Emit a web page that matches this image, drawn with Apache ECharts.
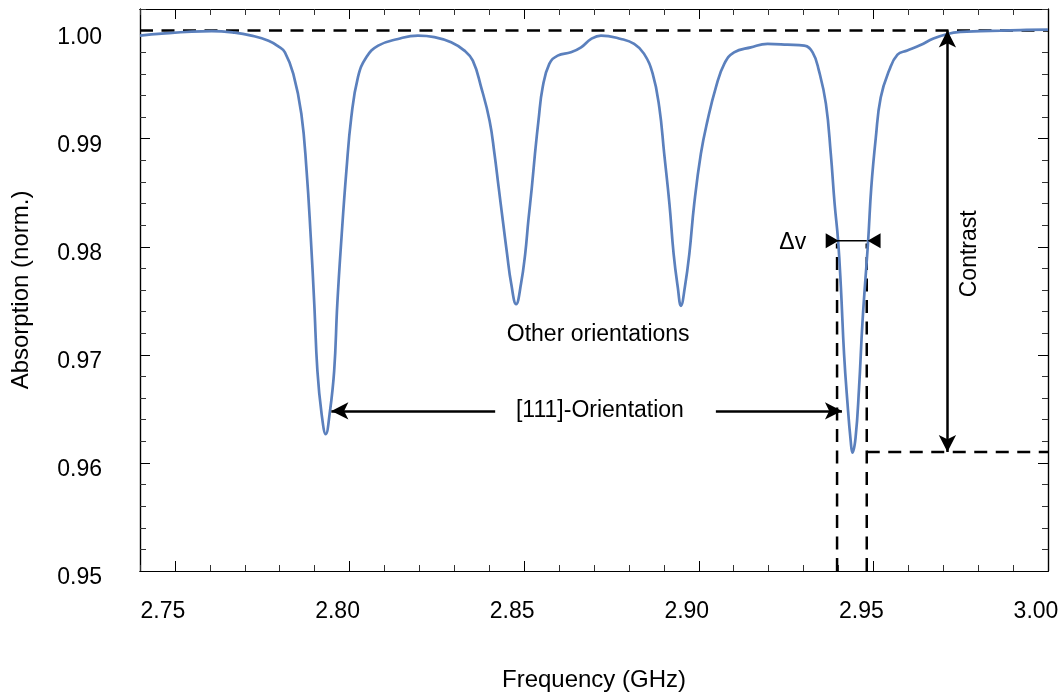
<!DOCTYPE html>
<html><head><meta charset="utf-8">
<script src="https://cdn.jsdelivr.net/npm/echarts@6/dist/echarts.min.js"></script>
<style>html,body{margin:0;padding:0;background:#fff}#c{width:1064px;height:694px}</style>
</head><body><div id="c"></div>
<script>
// ---- data ----
const freq = [2.7400, 2.7462, 2.7548, 2.7605, 2.7671, 2.7719, 2.7768, 2.7797, 2.7815, 2.7839,
  2.7862, 2.7877, 2.7889, 2.7899, 2.7908, 2.7920, 2.7932, 2.7943, 2.7956, 2.7965,
  2.7977, 2.7991, 2.8005, 2.8024, 2.8048, 2.8082, 2.8139, 2.8196, 2.8243, 2.8291,
  2.8329, 2.8353, 2.8377, 2.8401, 2.8415, 2.8427, 2.8439, 2.8451, 2.8463, 2.8477,
  2.8491, 2.8503, 2.8512, 2.8522, 2.8531, 2.8541, 2.8553, 2.8572, 2.8596, 2.8634,
  2.8663, 2.8692, 2.8720, 2.8777, 2.8815, 2.8843, 2.8868, 2.8887, 2.8901, 2.8916,
  2.8928, 2.8940, 2.8949, 2.8960, 2.8973, 2.8987, 2.9006, 2.9025, 2.9049, 2.9073,
  2.9101, 2.9149, 2.9197, 2.9254, 2.9302, 2.9326, 2.9344, 2.9364, 2.9378, 2.9389,
  2.9399, 2.9407, 2.9416, 2.9426, 2.9435, 2.9440, 2.9449, 2.9459, 2.9469, 2.9485,
  2.9494, 2.9507, 2.9521, 2.9545, 2.9569, 2.9597, 2.9635, 2.9672, 2.9712, 2.9750,
  2.9807, 2.9864, 2.9921, 3.0000];
const absorb = [0.99954, 0.99972, 0.99991, 0.99995, 0.99981, 0.99954, 0.99907, 0.99852, 0.99799, 0.99599,
  0.99231, 0.98704, 0.98086, 0.97472, 0.96852, 0.96454, 0.96266, 0.96454, 0.96852, 0.97472,
  0.98086, 0.98704, 0.99197, 0.99568, 0.99753, 0.99861, 0.99923, 0.99954, 0.99940, 0.99892,
  0.99815, 0.99722, 0.99475, 0.99167, 0.98861, 0.98549, 0.98241, 0.97935, 0.97657, 0.97469,
  0.97657, 0.97935, 0.98241, 0.98549, 0.98861, 0.99167, 0.99475, 0.99692, 0.99769, 0.99799,
  0.99845, 0.99923, 0.99954, 0.99923, 0.99877, 0.99787, 0.99602, 0.99290, 0.98861, 0.98398,
  0.97935, 0.97623, 0.97454, 0.97623, 0.97935, 0.98398, 0.98861, 0.99167, 0.99475, 0.99692,
  0.99799, 0.99845, 0.99877, 0.99870, 0.99861, 0.99799, 0.99630, 0.99324, 0.98861, 0.98398,
  0.98056, 0.97623, 0.97009, 0.96546, 0.96204, 0.96095, 0.96234, 0.96697, 0.97315, 0.98056,
  0.98549, 0.99012, 0.99382, 0.99630, 0.99778, 0.99815, 0.99866, 0.99926, 0.99969, 0.99988,
  0.99995, 1.00000, 1.00005, 1.00009];
const xMajorTicks = [2.75, 2.80, 2.85, 2.90, 2.95, 3.00];
const yMajorTicks = [0.95, 0.96, 0.97, 0.98, 0.99, 1.00];

// annotation anchors (data coordinates)
const baseline = 1.00;
const dipLevel = 0.961;
const fwhmLeft = 2.9396, fwhmRight = 2.9481, fwhmLevel = 0.98056, fwhmDashTop = 0.9803;
const contrastX = 2.9712;
const orientY = 0.96481;
const orientLeft = [2.8417, 2.7948];
const orientRight = [2.9049, 2.9410];
const labels = [
  {text: 'Other orientations', x: 2.8712, y: 0.97185, rotate: 0},
  {text: '[111]-Orientation', x: 2.8717, y: 0.96481, rotate: 0},
  {text: '\u0394v', x: 2.9269, y: 0.98037, rotate: 0},
  {text: 'Contrast', x: 2.9777, y: 0.97935, rotate: 90}
];
const triangles = [
  {x: 2.9382, y: 0.98056, rot: -90},
  {x: 2.9502, y: 0.98056, rot: 90}
];

const FONT = 'Liberation Sans, Arial, sans-serif';
const XMIN = 2.74, XMAX = 3.00, YMIN = 0.95, YMAX = 1.002;
const dash = [13, 8.5];

function xAxisDef(pos, major) {
  const a = {
    type: 'value', position: pos, min: XMIN, max: XMAX, interval: 0.01,
    axisLine: {show: true, onZero: false, lineStyle: {color: '#000', width: 1.2}},
    splitLine: {show: false},
    axisTick: {show: true, inside: true, length: major ? 10 : 6,
      lineStyle: {color: major ? '#000' : '#333', width: 1}},
    axisLabel: {show: false},
    axisPointer: {show: false}
  };
  if (major) {
    a.axisTick.customValues = xMajorTicks;
    if (pos === 'bottom') {
      a.axisLabel = {show: true, customValues: xMajorTicks, fontFamily: FONT, fontSize: 23,
        color: '#000', margin: 29, padding: [0, 24, 0, 0], formatter: v => v.toFixed(2)};
      a.name = 'Frequency (GHz)';
      a.nameLocation = 'middle';
      a.nameGap = 97;
      a.nameTextStyle = {fontFamily: FONT, fontSize: 24, color: '#000'};
    }
  }
  return a;
}
function yAxisDef(pos, major) {
  const a = {
    type: 'value', position: pos, min: YMIN, max: YMAX, interval: major ? 0.01 : 0.002,
    axisLine: {show: true, onZero: false, lineStyle: {color: '#000', width: 1.2}},
    splitLine: {show: false},
    axisTick: {show: true, inside: true, length: major ? 10 : 6,
      lineStyle: {color: major ? '#000' : '#333', width: 1}},
    axisLabel: {show: false},
    axisPointer: {show: false}
  };
  if (major) {
    a.axisTick.customValues = yMajorTicks;
    if (pos === 'left') {
      a.axisLabel = {show: true, customValues: yMajorTicks, fontFamily: FONT, fontSize: 23,
        color: '#000', margin: 38, verticalAlign: 'top', lineHeight: 14,
        formatter: v => v.toFixed(2)};
      a.name = 'Absorption (norm.)';
      a.nameLocation = 'middle';
      a.nameGap = 107;
      a.nameTextStyle = {fontFamily: FONT, fontSize: 24, color: '#000'};
    }
  }
  return a;
}

const chart = echarts.init(document.getElementById('c'), null, {renderer: 'canvas'});
const dashedStyle = {color: '#000', width: 2.5, type: dash};

chart.setOption({
  animation: false,
  backgroundColor: '#fff',
  grid: {left: 140, right: 16, top: 9, bottom: 123, outerBoundsMode: 'none'},
  xAxis: [xAxisDef('bottom', false), xAxisDef('bottom', true), xAxisDef('top', false), xAxisDef('top', true)],
  yAxis: [yAxisDef('left', false), yAxisDef('left', true), yAxisDef('right', false), yAxisDef('right', true)],
  series: [
    {
      type: 'line', name: 'baseline', data: [[XMIN, baseline], [XMAX, baseline]],
      showSymbol: false, silent: true, lineStyle: dashedStyle, z: 3
    },
    {
      type: 'line', name: 'dipLevel', data: [[fwhmRight, dipLevel], [XMAX, dipLevel]],
      showSymbol: false, silent: true, lineStyle: dashedStyle, z: 3
    },
    {
      type: 'line', name: 'fwhmL', data: [[fwhmLeft, YMIN], [fwhmLeft, fwhmDashTop]],
      showSymbol: false, silent: true, lineStyle: dashedStyle, z: 3
    },
    {
      type: 'line', name: 'fwhmR', data: [[fwhmRight, YMIN], [fwhmRight, fwhmDashTop]],
      showSymbol: false, silent: true, lineStyle: dashedStyle, z: 3
    },
    {
      type: 'line', name: 'spectrum', data: freq.map((f, i) => [f, absorb[i]]),
      showSymbol: false, smooth: 0.45, silent: true,
      lineStyle: {color: '#5b80bd', width: 2.7}, z: 4
    },
    {
      type: 'line', name: 'fwhmBar', data: [[fwhmLeft, fwhmLevel], [fwhmRight, fwhmLevel]],
      showSymbol: false, silent: true, lineStyle: {color: '#000', width: 1.5}, z: 5,
      markLine: {
        silent: true, animation: false,
        symbol: ['none', 'arrow'], symbolSize: [13, 17],
        label: {show: false},
        lineStyle: {color: '#000', width: 2.5, type: 'solid'},
        emphasis: {disabled: true},
        data: [
          [{coord: [orientLeft[0], orientY]}, {coord: [orientLeft[1], orientY]}],
          [{coord: [orientRight[0], orientY]}, {coord: [orientRight[1], orientY]}],
          [{coord: [contrastX, dipLevel], symbol: 'arrow'}, {coord: [contrastX, baseline]}]
        ]
      }
    },
    {
      type: 'scatter', name: 'heads', silent: true, z: 6,
      symbol: 'triangle', symbolSize: [15, 13],
      itemStyle: {color: '#000', opacity: 1},
      data: triangles.map(t => ({value: [t.x, t.y], symbolRotate: t.rot}))
    },
    {
      type: 'scatter', name: 'texts', silent: true, z: 7,
      symbolSize: 1, itemStyle: {color: 'rgba(0,0,0,0)', opacity: 1},
      data: labels.map(l => ({
        value: [l.x, l.y],
        label: {show: true, position: 'inside', formatter: l.text, rotate: l.rotate,
          fontFamily: FONT, fontSize: 23, color: '#000'}
      }))
    }
  ]
});
</script></body></html>
